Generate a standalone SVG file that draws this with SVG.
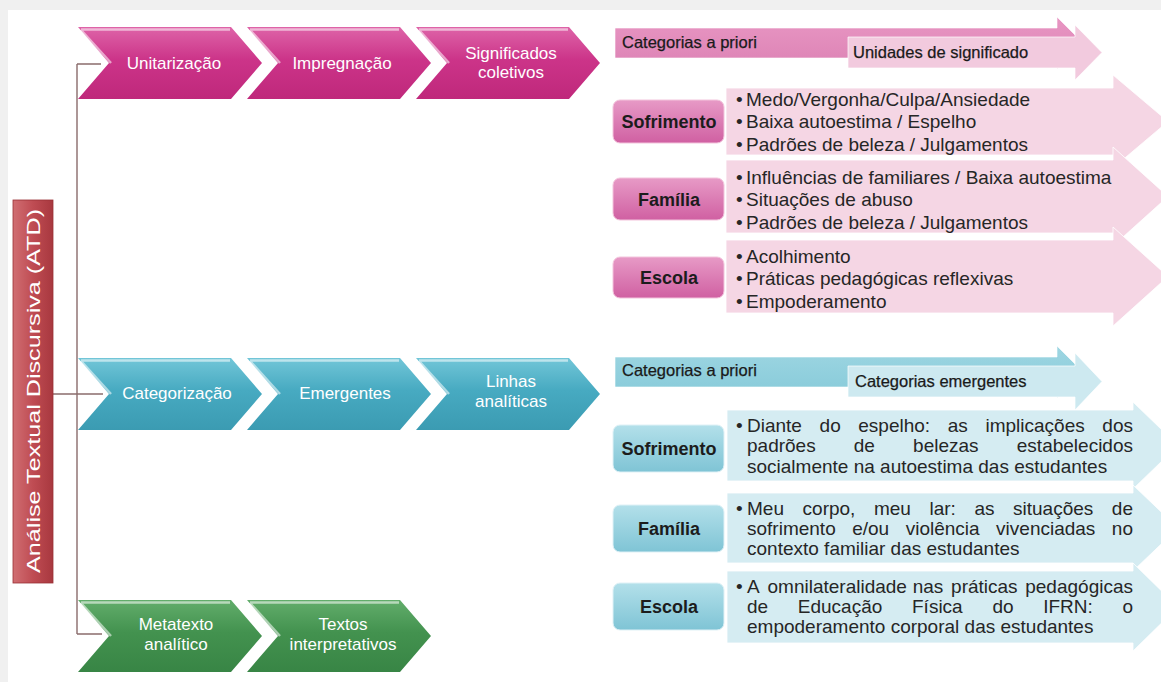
<svg xmlns="http://www.w3.org/2000/svg" xmlns:xlink="http://www.w3.org/1999/xlink" width="1161" height="682" viewBox="0 0 1161 682">
<defs>
<linearGradient id="gPink" x1="0" y1="0" x2="0" y2="1"><stop offset="0" stop-color="#de64a8"/><stop offset="0.45" stop-color="#cc3489"/><stop offset="1" stop-color="#bf287b"/></linearGradient>
<linearGradient id="gTeal" x1="0" y1="0" x2="0" y2="1"><stop offset="0" stop-color="#72c6d8"/><stop offset="0.45" stop-color="#47aac1"/><stop offset="1" stop-color="#3b9bb2"/></linearGradient>
<linearGradient id="gGreen" x1="0" y1="0" x2="0" y2="1"><stop offset="0" stop-color="#62ad6b"/><stop offset="0.45" stop-color="#43924f"/><stop offset="1" stop-color="#388545"/></linearGradient>
<linearGradient id="gRed" x1="0" y1="0" x2="1" y2="0"><stop offset="0" stop-color="#d06e72"/><stop offset="0.5" stop-color="#bf4c53"/><stop offset="1" stop-color="#a8383f"/></linearGradient>
<linearGradient id="gPinkLbl" x1="0" y1="0" x2="0" y2="1"><stop offset="0" stop-color="#e79ac6"/><stop offset="1" stop-color="#d060a2"/></linearGradient>
<linearGradient id="gTealLbl" x1="0" y1="0" x2="0" y2="1"><stop offset="0" stop-color="#b3e0ea"/><stop offset="1" stop-color="#7fc4d5"/></linearGradient>
<linearGradient id="gPinkHdr" x1="0" y1="0" x2="0" y2="1"><stop offset="0" stop-color="#e896c3"/><stop offset="1" stop-color="#dc82b4"/></linearGradient>
<linearGradient id="gTealHdr" x1="0" y1="0" x2="0" y2="1"><stop offset="0" stop-color="#9ed6e2"/><stop offset="1" stop-color="#86cad9"/></linearGradient>
<path id="chev" d="M0,0 H153 L184,36 L153,72 H0 L31,36 Z"/>
<path id="chevHi" d="M3,2.5 H152 M3,3 L33,36" fill="none" stroke="#ffffff" stroke-opacity="0.55" stroke-width="2.5"/>
</defs>
<style>
text{font-family:"Liberation Sans",Arial,sans-serif;}
.chev{font-size:17px;fill:#ffffff;text-anchor:middle;}
.hdr{font-size:16.5px;fill:#1a1a1a;stroke:#1a1a1a;stroke-width:0.25px;}
.lbl{font-size:18px;font-weight:bold;fill:#1c1c1c;text-anchor:middle;}
.bul{font-size:19px;fill:#262626;}
.end{text-anchor:end;}
.conn{fill:none;stroke:#8a6c6c;stroke-width:1.4;}
.rowP{fill:#f5d6e4;stroke:#ffffff;stroke-opacity:0.8;stroke-width:1;}
.rowT{fill:#d5ecf2;stroke:#ffffff;stroke-opacity:0.8;stroke-width:1;}
.hdrLightP{fill:#f2cade;stroke:#ffffff;stroke-opacity:0.7;}
.hdrLightT{fill:#cde9f0;stroke:#ffffff;stroke-opacity:0.7;}
</style>
<rect x="0" y="0" width="1161" height="682" fill="#f0f0f0"/>
<rect x="8" y="10" width="1153" height="672" fill="#ffffff"/>

<g id="connectors">
<path class="conn" d="M77,64 V634 M77,64 H101 M53,394 H103 M77,634 H102"/>
</g>

<g id="n-atd">
<rect x="13" y="200" width="40" height="383" fill="url(#gRed)" stroke="#9a3036" stroke-width="0.8"/>
<text transform="translate(40,391) rotate(-90)" font-size="19" fill="#ffffff" text-anchor="middle" textLength="364" lengthAdjust="spacingAndGlyphs">Análise Textual Discursiva (ATD)</text>
</g>

<g id="n-unitarizacao"><use href="#chev" x="78" y="27" fill="url(#gPink)"/><use href="#chevHi" x="78" y="27"/><text class="chev" x="174" y="69">Unitarização</text></g>
<g id="n-impregnacao"><use href="#chev" x="247" y="27" fill="url(#gPink)"/><use href="#chevHi" x="247" y="27"/><text class="chev" x="342" y="69">Impregnação</text></g>
<g id="n-significados"><use href="#chev" x="416" y="27" fill="url(#gPink)"/><use href="#chevHi" x="416" y="27"/><text class="chev" x="511" y="59">Significados</text><text class="chev" x="511" y="78">coletivos</text></g>

<g id="n-categorizacao"><use href="#chev" x="78" y="358" fill="url(#gTeal)"/><use href="#chevHi" x="78" y="358"/><text class="chev" x="177" y="399">Categorização</text></g>
<g id="n-emergentes"><use href="#chev" x="247" y="358" fill="url(#gTeal)"/><use href="#chevHi" x="247" y="358"/><text class="chev" x="345" y="399">Emergentes</text></g>
<g id="n-linhas"><use href="#chev" x="416" y="358" fill="url(#gTeal)"/><use href="#chevHi" x="416" y="358"/><text class="chev" x="511" y="387">Linhas</text><text class="chev" x="511" y="407">analíticas</text></g>

<g id="n-metatexto"><use href="#chev" x="78" y="600" fill="url(#gGreen)"/><use href="#chevHi" x="78" y="600"/><text class="chev" x="176" y="630">Metatexto</text><text class="chev" x="176" y="650">analítico</text></g>
<g id="n-textos"><use href="#chev" x="247" y="600" fill="url(#gGreen)"/><use href="#chevHi" x="247" y="600"/><text class="chev" x="343" y="630">Textos</text><text class="chev" x="343" y="650">interpretativos</text></g>

<g id="n-pink-header">
<path d="M615,28 H1057 V17 L1083,43 L1057,69 V58 H615 Z" fill="url(#gPinkHdr)" stroke="#ffffff" stroke-opacity="0.6"/>
<path class="hdrLightP" d="M848,37 H1075 V25 L1102,52.5 L1075,80 V68 H848 Z"/>
<text class="hdr" x="622" y="48">Categorias a priori</text>
<text class="hdr" x="853" y="58">Unidades de significado</text>
</g>

<g id="n-pink-sofrimento">
<path class="rowP" d="M726,88 H1113 V75 L1168,121.5 L1113,168 V155 H726 Z"/>
<rect x="613" y="100" width="111" height="43" rx="7" fill="url(#gPinkLbl)" stroke="#f3c4dc" stroke-width="1"/>
<text class="lbl" x="669" y="127.5">Sofrimento</text>
<text class="bul"><tspan x="736" y="105.5">•</tspan><tspan x="746" y="105.5">Medo/Vergonha/Culpa/Ansiedade</tspan></text>
<text class="bul"><tspan x="736" y="128">•</tspan><tspan x="746" y="128">Baixa autoestima / Espelho</tspan></text>
<text class="bul"><tspan x="736" y="150.5">•</tspan><tspan x="746" y="150.5">Padrões de beleza / Julgamentos</tspan></text>
</g>
<g id="n-pink-familia">
<path class="rowP" d="M726,160 H1113 V147 L1168,196.5 L1113,246 V233 H726 Z"/>
<rect x="613" y="178" width="111" height="42" rx="7" fill="url(#gPinkLbl)" stroke="#f3c4dc" stroke-width="1"/>
<text class="lbl" x="669" y="205.5">Família</text>
<text class="bul"><tspan x="736" y="183.5">•</tspan><tspan x="746" y="183.5">Influências de familiares / Baixa autoestima</tspan></text>
<text class="bul"><tspan x="736" y="206">•</tspan><tspan x="746" y="206">Situações de abuso</tspan></text>
<text class="bul"><tspan x="736" y="228.5">•</tspan><tspan x="746" y="228.5">Padrões de beleza / Julgamentos</tspan></text>
</g>
<g id="n-pink-escola">
<path class="rowP" d="M726,240 H1113 V227 L1168,276.5 L1113,326 V313 H726 Z"/>
<rect x="613" y="257" width="111" height="41" rx="7" fill="url(#gPinkLbl)" stroke="#f3c4dc" stroke-width="1"/>
<text class="lbl" x="669" y="284">Escola</text>
<text class="bul"><tspan x="736" y="262.5">•</tspan><tspan x="746" y="262.5">Acolhimento</tspan></text>
<text class="bul"><tspan x="736" y="285">•</tspan><tspan x="746" y="285">Práticas pedagógicas reflexivas</tspan></text>
<text class="bul"><tspan x="736" y="307.5">•</tspan><tspan x="746" y="307.5">Empoderamento</tspan></text>
</g>

<g id="n-teal-header">
<path d="M615,357 H1057 V346 L1083,372 L1057,398 V387 H615 Z" fill="url(#gTealHdr)" stroke="#ffffff" stroke-opacity="0.6"/>
<path class="hdrLightT" d="M848,366 H1075 V353 L1102,381.5 L1075,410 V397 H848 Z"/>
<text class="hdr" x="622" y="376">Categorias a priori</text>
<text class="hdr" x="855" y="387">Categorias emergentes</text>
</g>

<g id="n-teal-sofrimento">
<path class="rowT" d="M727,410 H1133 V402 L1178,445.5 L1133,489 V481 H727 Z"/>
<rect x="613" y="425" width="111" height="47" rx="7" fill="url(#gTealLbl)" stroke="#dff1f6" stroke-width="1"/>
<text class="lbl" x="669" y="455">Sofrimento</text>
<g class="bul">
<text x="736" y="431.5">•</text><text x="747" y="431.5">Diante</text><text x="819.6" y="431.5">do</text><text x="858.3" y="431.5">espelho:</text><text x="947.8" y="431.5">as</text><text x="985.5" y="431.5">implicações</text><text class="end" x="1133" y="431.5">dos</text>
<text x="747" y="452">padrões</text><text x="853.8" y="452">de</text><text x="913.1" y="452">belezas</text><text class="end" x="1133" y="452">estabelecidos</text>
<text x="747" y="472.5">socialmente na autoestima das estudantes</text>
</g>
</g>
<g id="n-teal-familia">
<path class="rowT" d="M727,493 H1133 V485 L1178,528 L1133,571 V563 H727 Z"/>
<rect x="613" y="505" width="111" height="47" rx="7" fill="url(#gTealLbl)" stroke="#dff1f6" stroke-width="1"/>
<text class="lbl" x="669" y="535">Família</text>
<g class="bul">
<text x="736" y="514.5">•</text><text x="747" y="514.5">Meu</text><text x="802.6" y="514.5">corpo,</text><text x="873.9" y="514.5">meu</text><text x="929.5" y="514.5">lar:</text><text x="974.4" y="514.5">as</text><text x="1013" y="514.5">situações</text><text class="end" x="1133" y="514.5">de</text>
<text x="747" y="534.5">sofrimento</text><text x="852.2" y="534.5">e/ou</text><text x="905.7" y="534.5">violência</text><text x="996.1" y="534.5">vivenciadas</text><text class="end" x="1133" y="534.5">no</text>
<text x="747" y="554.5">contexto familiar das estudantes</text>
</g>
</g>
<g id="n-teal-escola">
<path class="rowT" d="M727,571 H1133 V563 L1178,607 L1133,651 V643 H727 Z"/>
<rect x="613" y="583" width="111" height="47" rx="7" fill="url(#gTealLbl)" stroke="#dff1f6" stroke-width="1"/>
<text class="lbl" x="669" y="613">Escola</text>
<g class="bul">
<text x="736" y="593">•</text><text x="747" y="593">A</text><text x="767.5" y="593">omnilateralidade</text><text x="912.7" y="593">nas</text><text x="951.1" y="593">práticas</text><text class="end" x="1133" y="593">pedagógicas</text>
<text x="747" y="613">de</text><text x="797.8" y="613">Educação</text><text x="912" y="613">Física</text><text x="992.4" y="613">do</text><text x="1043.2" y="613">IFRN:</text><text class="end" x="1133" y="613">o</text>
<text x="747" y="632.5">empoderamento corporal das estudantes</text>
</g>
</g>
</svg>
